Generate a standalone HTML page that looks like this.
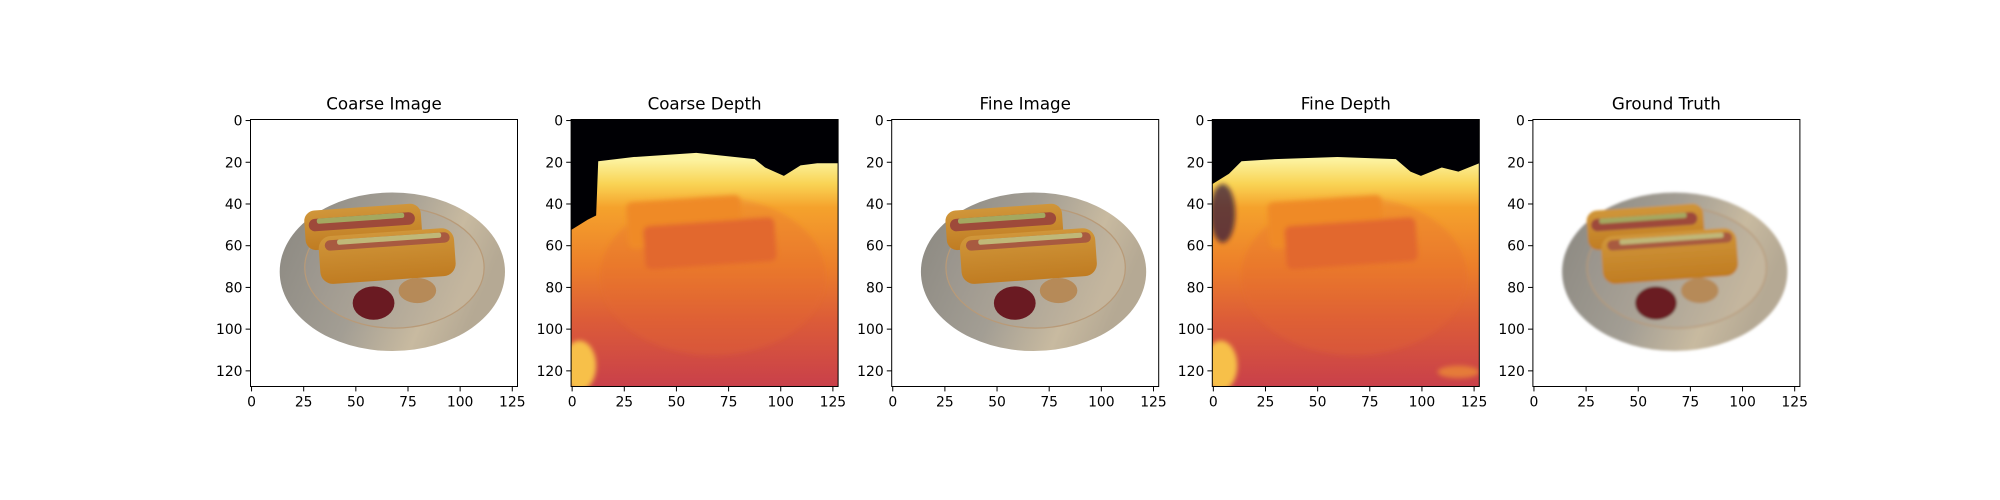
<!DOCTYPE html>
<html><head><meta charset="utf-8">
<style>
html,body{margin:0;padding:0;background:#fff;}
svg{display:block;}
text{font-family:"DejaVu Sans","Liberation Sans",sans-serif;fill:#000;}
</style></head>
<body>
<svg id="fig" width="2000" height="500" viewBox="0 0 2000 500" xmlns="http://www.w3.org/2000/svg">
<defs>
<linearGradient id="plateG" x1="0" y1="0" x2="1" y2="0.3">
 <stop offset="0" stop-color="#8a8780"/><stop offset="0.5" stop-color="#a39e94"/><stop offset="0.8" stop-color="#c8baa0"/><stop offset="1" stop-color="#b5a994"/>
</linearGradient>
<linearGradient id="innerG" x1="0" y1="0" x2="1" y2="0.3">
 <stop offset="0" stop-color="#94908a"/><stop offset="0.6" stop-color="#aea698"/><stop offset="1" stop-color="#c4b69e"/>
</linearGradient>
<linearGradient id="bunG" x1="0" y1="0" x2="0" y2="1">
 <stop offset="0" stop-color="#d0963a"/><stop offset="1" stop-color="#c07c22"/>
</linearGradient>
<linearGradient id="depthG" gradientUnits="userSpaceOnUse" x1="0" y1="0" x2="0" y2="128">
 <stop offset="0.15" stop-color="#fcf3a0"/><stop offset="0.24" stop-color="#f9d455"/><stop offset="0.33" stop-color="#f5a22c"/><stop offset="0.55" stop-color="#ec7f2a"/><stop offset="0.75" stop-color="#dc5c38"/><stop offset="1" stop-color="#c9404a"/>
</linearGradient>
<filter id="blur1"><feGaussianBlur stdDeviation="0.6"/></filter>
<filter id="blur2"><feGaussianBlur stdDeviation="1.2"/></filter>
<clipPath id="clipImg"><rect x="0" y="0" width="128" height="128"/></clipPath>
</defs>
</svg>
<script>
const panelTitles = ["Coarse Image","Coarse Depth","Fine Image","Fine Depth","Ground Truth"];
const panelKinds = ["rgb","depth","rgb","depth","rgb"];
const xTicks = [0,25,50,75,100,125];
const yTicks = [0,20,40,60,80,100,120];
const imgSize = 128;

const NS = "http://www.w3.org/2000/svg";
const fig = document.getElementById("fig");
const axLeft0 = 250.5, axStep = 320.6, axTop = 119.5, axSize = 267;
const s = axSize / imgSize;

function mk(tag, attrs, parent){
  const e = document.createElementNS(NS, tag);
  for (const k in attrs) e.setAttribute(k, attrs[k]);
  parent.appendChild(e);
  return e;
}

function rgbContent(g, variant){
  const sub = mk("g", {filter: variant === 4 ? "url(#blur1)" : ""}, g);
  mk("ellipse", {cx:68, cy:73, rx:54, ry:38, fill:"url(#plateG)"}, sub);
  mk("ellipse", {cx:69, cy:71, rx:43, ry:29, fill:"url(#innerG)", stroke:"#b89a78", "stroke-width":0.6}, sub);
  mk("rect", {x:26, y:42, width:56, height:19, rx:5, fill:"url(#bunG)", transform:"rotate(-4 54 51)"}, sub);
  mk("rect", {x:28, y:46, width:51, height:6, rx:3, fill:"#9e4a3a", transform:"rotate(-4 54 51)"}, sub);
  mk("rect", {x:32, y:46, width:42, height:2.5, rx:1, fill:"#a4a860", transform:"rotate(-4 54 51)"}, sub);
  mk("rect", {x:33, y:54, width:65, height:23, rx:6, fill:"url(#bunG)", transform:"rotate(-4 65 65)"}, sub);
  mk("rect", {x:36, y:56, width:60, height:5, rx:2.5, fill:"#a85a40", transform:"rotate(-4 65 65)"}, sub);
  mk("rect", {x:42, y:56, width:50, height:2.5, rx:1, fill:"#c0b878", transform:"rotate(-4 65 65)"}, sub);
  mk("ellipse", {cx:59, cy:88, rx:10, ry:8, fill:"#6a1a22"}, sub);
  mk("ellipse", {cx:80, cy:82, rx:9, ry:6, fill:"#b68a58"}, sub);
}

function depthContent(g, variant){
  mk("rect", {x:0, y:0, width:128, height:128, fill:"#000004"}, g);
  const pts = variant === 1
    ? "0,53 8,48 12,46 13,20 30,18 60,16 88,19 93,23 102,27 110,22 118,21 128,21 128,128 0,128"
    : "0,31 8,26 14,20 30,19 60,18 88,19 95,25 100,27 110,23 118,25 128,21 128,128 0,128";
  mk("polygon", {points:pts, fill:"url(#depthG)"}, g);
  const d = mk("g", {filter:"url(#blur2)"}, g);
  mk("ellipse", {cx:68, cy:75, rx:54, ry:38, fill:"#e36a2e", opacity:0.3}, d);
  mk("rect", {x:27, y:38, width:55, height:22, rx:3, fill:"#ef8a28", transform:"rotate(-4 54 50)"}, d);
  mk("rect", {x:35, y:49, width:63, height:21, rx:3, fill:"#e2682d", transform:"rotate(-4 66 59)"}, d);
  mk("ellipse", {cx:4, cy:118, rx:8, ry:12, fill:"#f7c04a"}, d);
  if (variant === 3){
    mk("ellipse", {cx:5, cy:45, rx:6, ry:14, fill:"#2a0c3a", opacity:0.7}, d);
    mk("ellipse", {cx:118, cy:121, rx:10, ry:3, fill:"#f09232", opacity:0.7}, d);
  }
}

panelTitles.forEach((title, i) => {
  const left = axLeft0 + i * axStep;
  const pg = mk("g", {}, fig);
  
  
  const img = mk("g", {transform:`translate(${left},${axTop}) scale(${s})`, "clip-path":"url(#clipImg)"}, pg);
  
  
  if (panelKinds[i] === "rgb") rgbContent(img, i); else depthContent(img, i);
  const frame = mk("rect", {x:left, y:axTop, width:axSize, height:axSize, fill:"none", stroke:"#000", "stroke-width":1}, pg);
  
  
  const t = mk("text", {x:left + axSize/2, y:axTop - 10, "text-anchor":"middle", "font-size":16.7}, pg);
  
  
  t.textContent = title;
  xTicks.forEach(v => {
    const x = left + (v + 0.5) * s;
    mk("line", {x1:x, y1:axTop+axSize, x2:x, y2:axTop+axSize+4.9, stroke:"#000", "stroke-width":1}, pg);
    const tl = mk("text", {x:x, y:axTop+axSize+20, "text-anchor":"middle", "font-size":13.9}, pg);
    
    
    tl.textContent = v;
  });
  yTicks.forEach(v => {
    const y = axTop + (v + 0.5) * s;
    mk("line", {x1:left-4.9, y1:y, x2:left, y2:y, stroke:"#000", "stroke-width":1}, pg);
    const tl = mk("text", {x:left-8, y:y+5, "text-anchor":"end", "font-size":13.9}, pg);
    
    
    tl.textContent = v;
  });
});
</script>
</body></html>
